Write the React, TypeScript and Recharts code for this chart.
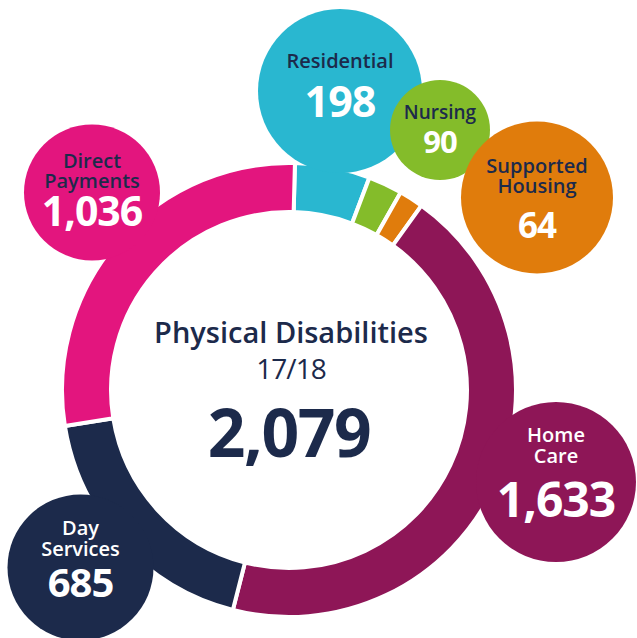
import React from 'react';
import { PieChart, Pie, Cell } from 'recharts';

// ---- data ----
const categories = ['Residential', 'Nursing', 'Supported Housing', 'Home Care', 'Day Services', 'Direct Payments'];
const values = [198, 90, 64, 1633, 685, 1036];
const labelLines = [['Residential'], ['Nursing'], ['Supported', 'Housing'], ['Home', 'Care'], ['Day', 'Services'], ['Direct', 'Payments']];
const valueLabels = ['198', '90', '64', '1,633', '685', '1,036'];
const centerTitle = 'Physical Disabilities';
const centerPeriod = '17/18';
const centerTotal = '2,079';

// ---- styles ----
const colors = ['#29B7D0', '#84BC2A', '#E07C0C', '#8E1657', '#1C2A4B', '#E3157E'];
const NAVY = '#1C2A4B';
const FONT = '"Open Sans", sans-serif';

// bubble layout: offset from pie centre, radius, font sizes, label colour, baseline offsets
const bubbles = [
  { dx: 51, dy: -299, r: 82, ls: 20, vs: 43, lc: NAVY, lb: [-23], vb: 26 },
  { dx: 151, dy: -260, r: 50, ls: 19, vs: 31, lc: NAVY, lb: [-11], vb: 23 },
  { dx: 248, dy: -192.5, r: 76, ls: 20, vs: 35, lc: NAVY, lb: [-24.5, -4.5], vb: 40.5 },
  { dx: 267, dy: 92, r: 80, ls: 20, vs: 48, lc: '#FFFFFF', lb: [-40, -19], vb: 35 },
  { dx: -208.5, dy: 177.5, r: 73, ls: 20, vs: 40, lc: '#FFFFFF', lb: [-32.5, -11.5], vb: 29.5 },
  { dx: -197, dy: -197.5, r: 68, ls: 20, vs: 41, lc: NAVY, lb: [-24.5, -4.5], vb: 33.5 },
];

const data = categories.map((name, i) => ({ name, value: values[i] }));

const renderCenter = (cx: number, cy: number) => (
  <g>
    <text x={cx + 2} y={cy - 47} textAnchor="middle" fill={NAVY} fontFamily={FONT} fontWeight={600} fontSize={29}>{centerTitle}</text>
    <text x={cx + 2} y={cy - 11} textAnchor="middle" fill={NAVY} fontFamily={FONT} fontWeight={500} fontSize={28} letterSpacing={-1}>{centerPeriod}</text>
    <text x={cx} y={cy + 67} textAnchor="middle" fill={NAVY} fontFamily={FONT} fontWeight={700} fontSize={66} letterSpacing={-1.5}>{centerTotal}</text>
  </g>
);

const renderBubble = (props: any) => {
  const { cx, cy, index } = props;
  const b = bubbles[index];
  const x = cx + b.dx;
  const y = cy + b.dy;
  return (
    <g key={`bubble-${index}`}>
      {index === 0 ? renderCenter(cx, cy) : null}
      <circle cx={x} cy={y} r={b.r} fill={colors[index]} />
      {labelLines[index].map((t, j) => (
        <text key={j} x={x} y={y + b.lb[j]} textAnchor="middle" fill={b.lc}
          fontFamily={FONT} fontWeight={600} fontSize={b.ls}>{t}</text>
      ))}
      <text x={x} y={y + b.vb} textAnchor="middle" fill="#FFFFFF"
        fontFamily={FONT} fontWeight={700} fontSize={b.vs} letterSpacing={-1}>{valueLabels[index]}</text>
    </g>
  );
};

export default function App() {
  return (
    <div style={{ position: 'absolute', left: 0, top: 0, width: 637, height: 638, background: '#FFFFFF', overflow: 'hidden' }}>
      <PieChart width={637} height={638} margin={{ top: 0, right: 0, bottom: 0, left: 0 }}>
        <Pie
          data={data}
          dataKey="value"
          nameKey="name"
          cx={289}
          cy={390}
          innerRadius={178}
          outerRadius={227}
          startAngle={88.5}
          endAngle={-271.5}
          stroke="#FFFFFF"
          strokeWidth={4}
          isAnimationActive={false}
          labelLine={false}
          label={renderBubble}
        >
          {data.map((d, i) => (
            <Cell key={d.name} fill={colors[i]} />
          ))}
        </Pie>
      </PieChart>
    </div>
  );
}
